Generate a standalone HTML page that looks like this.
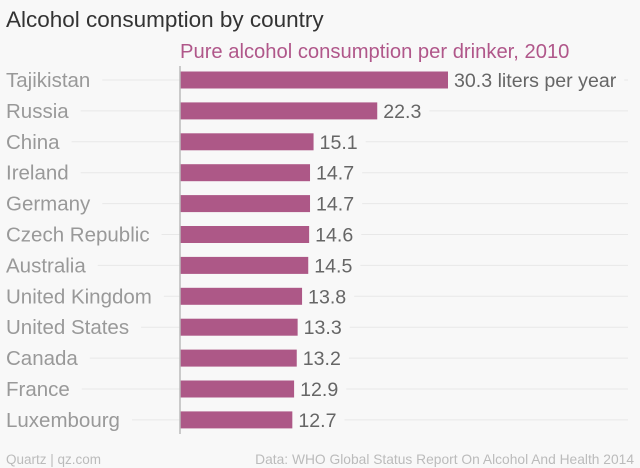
<!DOCTYPE html>
<html><head><meta charset="utf-8"><style>
body{margin:0;background:#f8f8f8;font-family:"Liberation Sans",sans-serif;}
svg{display:block}
</style></head><body>
<svg id="c" width="640" height="468">
<text x="6" y="27" font-size="22.5" fill="#333">Alcohol consumption by country</text>
<text x="180" y="58" font-size="20.2" fill="#b0578a">Pure alcohol consumption per drinker, 2010</text>
<text x="6" y="464" font-size="13.5" fill="#bbb">Quartz | qz.com</text>
<text x="634" y="464" font-size="13.8" fill="#bbb" text-anchor="end">Data: WHO Global Status Report On Alcohol And Health 2014</text>
<g id="g"></g>
<line x1="180" y1="66" x2="180" y2="434" stroke="#bbb" stroke-width="1.5"/>
</svg>
<script>
const categories=["Tajikistan","Russia","China","Ireland","Germany","Czech Republic","Australia","United Kingdom","United States","Canada","France","Luxembourg"];
const values=[30.3,22.3,15.1,14.7,14.7,14.6,14.5,13.8,13.3,13.2,12.9,12.7];
const valueLabels=["30.3 liters per year","22.3","15.1","14.7","14.7","14.6","14.5","13.8","13.3","13.2","12.9","12.7"];
const x0=180,k=268/30.3;
const xs=v=>x0+v*k;
const yc=i=>80+i*30.9;
const g=document.getElementById('g');
const NS="http://www.w3.org/2000/svg";
function mk(t,a){const e=document.createElementNS(NS,t);for(const n in a)e.setAttribute(n,a[n]);g.appendChild(e);return e;}
categories.forEach((c,i)=>{
  const y=yc(i);
  const lab=mk('text',{x:6,y:y+7,'font-size':20.5,fill:'#999'});
  lab.textContent=c;
  
  
  const lw=lab.getComputedTextLength();
  const gl=mk('line',{x1:6+lw+12,x2:x0,y1:y,y2:y,stroke:'#e8e8e8','stroke-width':1});
  
  
  const b=mk('rect',{x:x0,y:y-8.5,width:xs(values[i])-x0,height:17,fill:'#ad5887'});
  
  
  const vt=mk('text',{x:xs(values[i])+6,y:y+7,'font-size':19.6,fill:'#666'});
  vt.textContent=valueLabels[i];
  
  
  const vw=vt.getComputedTextLength();
  const gr=mk('line',{x1:xs(values[i])+6+vw+8,x2:628,y1:y,y2:y,stroke:'#e8e8e8','stroke-width':1});
  
  
});
</script>
</body></html>
